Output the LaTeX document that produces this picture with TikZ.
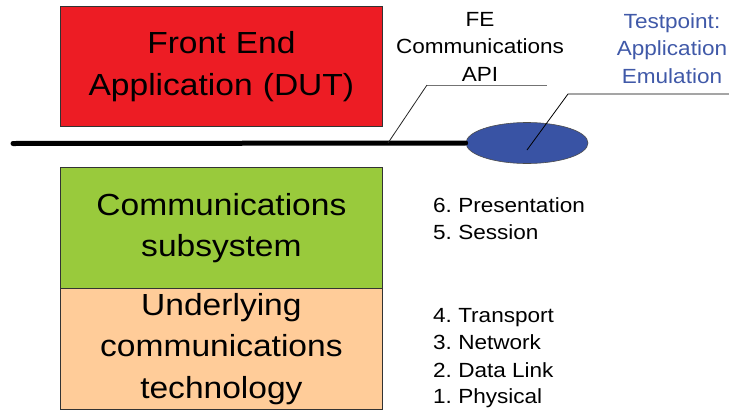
\documentclass[tikz,border=0pt]{standalone}
\usepackage{fontspec}
\setmainfont{Liberation Sans}[FakeStretch=1.1]
\usetikzlibrary{shapes.geometric}
\definecolor{fered}{HTML}{ED1C24}
\definecolor{subgreen}{HTML}{99CA3C}
\definecolor{techorange}{HTML}{FFCC99}
\definecolor{tpblue}{HTML}{3953A4}
\definecolor{tptext}{HTML}{4059A8}
\frenchspacing
\tikzset{
  layer/.style={draw=black!80, line width=0.8pt, anchor=north west,
    minimum width=322pt, inner sep=0pt, text width=318pt, align=center,
    font=\fontsize{30.5}{41.5}\selectfont},
  calltext/.style={align=center, inner sep=0pt, font=\fontsize{20.5}{27.5}\selectfont},
  listtext/.style={anchor=base west, inner sep=0pt, font=\fontsize{20.5}{27}\selectfont},
  leader/.style={line width=0.8pt},
}
\begin{document}
\begin{tikzpicture}[x=1pt, y=-1pt]
\useasboundingbox (0,0) rectangle (729,410);

% protocol stack boxes
\node[layer, fill=fered, minimum height=120pt] (fe) at (60,6) {Front End\\Application (DUT)};
\node[layer, fill=subgreen, minimum height=121pt] (comm) at (60,167) {Communications\\subsystem};
\node[layer, fill=techorange, minimum height=121pt] (tech) at (60,288) {Underlying\\communications\\technology};

% API bus and test point
\node[ellipse, draw=black!70, line width=0.6pt, fill=tpblue, minimum width=122pt,
      minimum height=41pt, inner sep=0pt] (tp) at (527,143) {};
\coordinate (busL) at (13,143.5);
\draw[line width=5pt, line cap=round] (busL) -- (tp.west);

% FE API label with leader
\node[calltext] (fetext) at (480,46.5) {FE\\Communications\\API};
\coordinate (feA) at (388,143);
\coordinate (feB) at (427,85);
\coordinate (feC) at (547,85);
\draw[leader, draw=black!55] (feB) -- (feC);
\draw[leader, draw=black!85] (feA) -- (feB);

% test point label with leader
\node[calltext, text=tptext] (tptextnode) at (672,48.5) {Testpoint:\\Application\\Emulation};
\coordinate (tpA) at (527,150);
\coordinate (tpB) at (568,94);
\coordinate (tpC) at (729,94);
\draw[leader] (tpA) -- (tpB) -- (tpC);

% OSI layers
\node[listtext] (l6) at (433,212) {6. Presentation};
\node[listtext] (l5) at (433,239) {5. Session};
\node[listtext] (l4) at (433,322) {4. Transport};
\node[listtext] (l3) at (433,349) {3. Network};
\node[listtext] (l2) at (433,377) {2. Data Link};
\node[listtext] (l1) at (433,403) {1. Physical};
\end{tikzpicture}
\end{document}
